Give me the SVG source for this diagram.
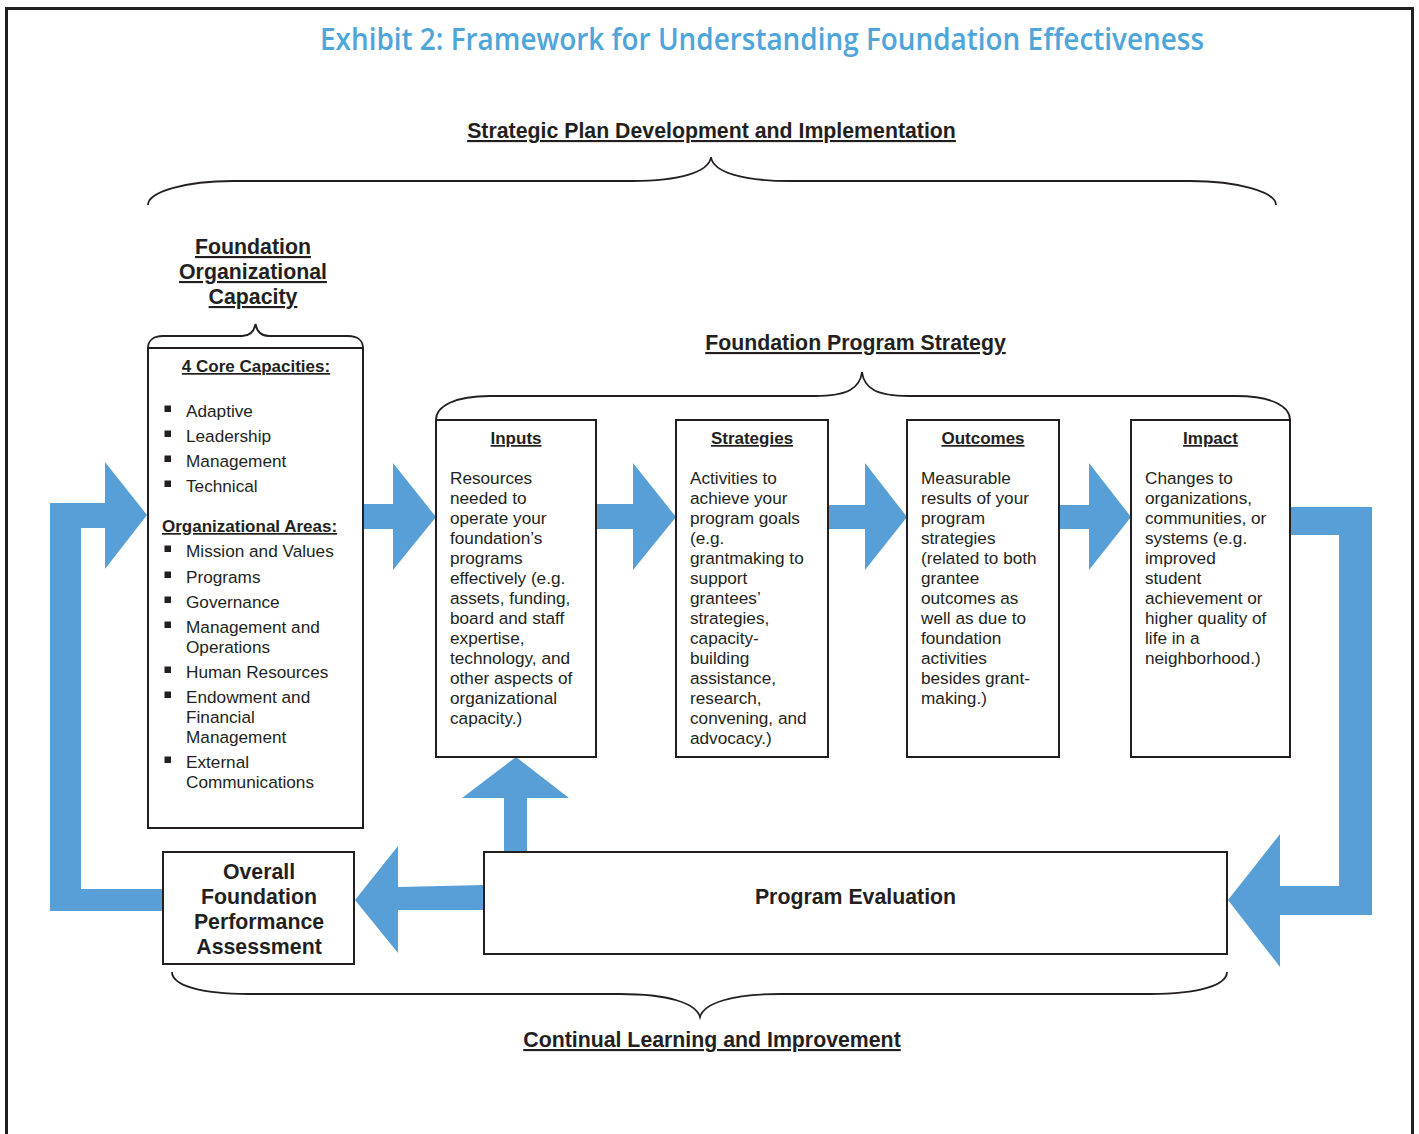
<svg xmlns="http://www.w3.org/2000/svg" width="1419" height="1134" viewBox="0 0 1419 1134">
<style>
  text { font-family: "Liberation Sans", Arial, sans-serif; fill: #231f20; }
  .title { font-family: "Open Sans", "Liberation Sans", sans-serif; font-weight: 600; font-size: 31px; fill: #4ea5da; }
  .h21 { font-weight: bold; font-size: 21.3px; }
  .u { text-decoration: underline; }
  .h17 { font-weight: bold; font-size: 17px; }
  .b17 { font-size: 17.2px; }
  .box { fill: #ffffff; stroke: #231f20; stroke-width: 2; }
  .brace { fill: none; stroke: #231f20; stroke-width: 1.8; }
  .arrow { fill: #579fd6; stroke: none; }
  .bullet { fill: #231f20; }
</style>
<rect width="1419" height="1134" fill="#ffffff"/>
<rect x="6.5" y="8.5" width="1406" height="1140" fill="none" stroke="#231f20" stroke-width="3"/>

<text class="title" x="762" y="50" text-anchor="middle" textLength="884" lengthAdjust="spacingAndGlyphs">Exhibit 2: Framework for Understanding Foundation Effectiveness</text>

<g id="connectors">
  <polygon class="arrow" points="50,911 163,911 163,889 81,889 81,528 105,528 105,569 147,515 105,462 105,503 50,503"/>
  <polygon class="arrow" points="363,504 393,504 393,463 436,517 393,570 393,529 363,529"/>
  <polygon class="arrow" points="596,504 633,504 633,463 676,517 633,570 633,529 596,529"/>
  <polygon class="arrow" points="828,505 865,505 865,463 907,517 865,570 865,529 828,529"/>
  <polygon class="arrow" points="1059,505 1089,505 1089,463 1131,517 1089,570 1089,529 1059,529"/>
  <polygon class="arrow" points="1290,507 1372,507 1372,915 1280,915 1280,967 1228,900 1280,834 1280,886 1339,886 1339,535 1290,535"/>
  <polygon class="arrow" points="484,885 398,887 398,846 355,900 398,953 398,910 484,910"/>
  <polygon class="arrow" points="504,852 504,798 462,798 516,757 569,798 527,798 527,852"/>
</g>

<g id="strategic-plan">
  <text class="h21 u" x="711.5" y="138" text-anchor="middle">Strategic Plan Development and Implementation</text>
  <path class="brace" d="M148 205 C148 192 185 181 233 181 L632 181 C680 181 709 172 711 157 C713 172 742 181 790 181 L1190 181 C1238 181 1276 192 1276 205"/>
</g>

<g id="org-capacity">
  <text class="h21 u" x="253" y="254" text-anchor="middle">Foundation</text>
  <text class="h21 u" x="253" y="279" text-anchor="middle">Organizational</text>
  <text class="h21 u" x="253" y="304" text-anchor="middle">Capacity</text>
  <path class="brace" d="M148 348 C148 341 153 336 163 336 L242 336 C250 336 254 332 255.5 324 C257 332 261 336 269 336 L348 336 C358 336 363 341 363 348"/>
  <rect class="box" x="148" y="348" width="215" height="480"/>
  <text class="h17 u" x="256" y="372" text-anchor="middle">4 Core Capacities:</text>
  <rect class="bullet" x="164.5" y="405.5" width="6.5" height="6.5"/>
  <text class="b17" x="186" y="417">Adaptive</text>
  <rect class="bullet" x="164.5" y="430.5" width="6.5" height="6.5"/>
  <text class="b17" x="186" y="442">Leadership</text>
  <rect class="bullet" x="164.5" y="455.5" width="6.5" height="6.5"/>
  <text class="b17" x="186" y="467">Management</text>
  <rect class="bullet" x="164.5" y="480.5" width="6.5" height="6.5"/>
  <text class="b17" x="186" y="492">Technical</text>
  <text class="h17 u" x="162" y="532">Organizational Areas:</text>
  <rect class="bullet" x="164.5" y="545.5" width="6.5" height="6.5"/>
  <text class="b17" x="186" y="557">Mission and Values</text>
  <rect class="bullet" x="164.5" y="571.5" width="6.5" height="6.5"/>
  <text class="b17" x="186" y="583">Programs</text>
  <rect class="bullet" x="164.5" y="596.5" width="6.5" height="6.5"/>
  <text class="b17" x="186" y="608">Governance</text>
  <rect class="bullet" x="164.5" y="621.5" width="6.5" height="6.5"/>
  <text class="b17" x="186" y="633">Management and</text>
  <text class="b17" x="186" y="653">Operations</text>
  <rect class="bullet" x="164.5" y="666.5" width="6.5" height="6.5"/>
  <text class="b17" x="186" y="678">Human Resources</text>
  <rect class="bullet" x="164.5" y="691.5" width="6.5" height="6.5"/>
  <text class="b17" x="186" y="703">Endowment and</text>
  <text class="b17" x="186" y="723">Financial</text>
  <text class="b17" x="186" y="743">Management</text>
  <rect class="bullet" x="164.5" y="756.5" width="6.5" height="6.5"/>
  <text class="b17" x="186" y="768">External</text>
  <text class="b17" x="186" y="788">Communications</text>
</g>

<g id="program-strategy">
  <text class="h21 u" x="855.5" y="350" text-anchor="middle">Foundation Program Strategy</text>
  <path class="brace" d="M436 420 C436 406 455 396 490 396 L815 396 C848 396 860 388 862 372 C864 388 876 396 909 396 L1236 396 C1271 396 1290 406 1290 420"/>
</g>

<g id="inputs">
  <rect class="box" x="436" y="420" width="160" height="337"/>
  <text class="h17 u" x="516" y="444" text-anchor="middle">Inputs</text>
  <text class="b17" x="450" y="484">Resources</text>
  <text class="b17" x="450" y="504">needed to</text>
  <text class="b17" x="450" y="524">operate your</text>
  <text class="b17" x="450" y="544">foundation’s</text>
  <text class="b17" x="450" y="564">programs</text>
  <text class="b17" x="450" y="584">effectively (e.g.</text>
  <text class="b17" x="450" y="604">assets, funding,</text>
  <text class="b17" x="450" y="624">board and staff</text>
  <text class="b17" x="450" y="644">expertise,</text>
  <text class="b17" x="450" y="664">technology, and</text>
  <text class="b17" x="450" y="684">other aspects of</text>
  <text class="b17" x="450" y="704">organizational</text>
  <text class="b17" x="450" y="724">capacity.)</text>
</g>

<g id="strategies">
  <rect class="box" x="676" y="420" width="152" height="337"/>
  <text class="h17 u" x="752" y="444" text-anchor="middle">Strategies</text>
  <text class="b17" x="690" y="484">Activities to</text>
  <text class="b17" x="690" y="504">achieve your</text>
  <text class="b17" x="690" y="524">program goals</text>
  <text class="b17" x="690" y="544">(e.g.</text>
  <text class="b17" x="690" y="564">grantmaking to</text>
  <text class="b17" x="690" y="584">support</text>
  <text class="b17" x="690" y="604">grantees’</text>
  <text class="b17" x="690" y="624">strategies,</text>
  <text class="b17" x="690" y="644">capacity-</text>
  <text class="b17" x="690" y="664">building</text>
  <text class="b17" x="690" y="684">assistance,</text>
  <text class="b17" x="690" y="704">research,</text>
  <text class="b17" x="690" y="724">convening, and</text>
  <text class="b17" x="690" y="744">advocacy.)</text>
</g>

<g id="outcomes">
  <rect class="box" x="907" y="420" width="152" height="337"/>
  <text class="h17 u" x="983" y="444" text-anchor="middle">Outcomes</text>
  <text class="b17" x="921" y="484">Measurable</text>
  <text class="b17" x="921" y="504">results of your</text>
  <text class="b17" x="921" y="524">program</text>
  <text class="b17" x="921" y="544">strategies</text>
  <text class="b17" x="921" y="564">(related to both</text>
  <text class="b17" x="921" y="584">grantee</text>
  <text class="b17" x="921" y="604">outcomes as</text>
  <text class="b17" x="921" y="624">well as due to</text>
  <text class="b17" x="921" y="644">foundation</text>
  <text class="b17" x="921" y="664">activities</text>
  <text class="b17" x="921" y="684">besides grant-</text>
  <text class="b17" x="921" y="704">making.)</text>
</g>

<g id="impact">
  <rect class="box" x="1131" y="420" width="159" height="337"/>
  <text class="h17 u" x="1210.5" y="444" text-anchor="middle">Impact</text>
  <text class="b17" x="1145" y="484">Changes to</text>
  <text class="b17" x="1145" y="504">organizations,</text>
  <text class="b17" x="1145" y="524">communities, or</text>
  <text class="b17" x="1145" y="544">systems (e.g.</text>
  <text class="b17" x="1145" y="564">improved</text>
  <text class="b17" x="1145" y="584">student</text>
  <text class="b17" x="1145" y="604">achievement or</text>
  <text class="b17" x="1145" y="624">higher quality of</text>
  <text class="b17" x="1145" y="644">life in a</text>
  <text class="b17" x="1145" y="664">neighborhood.)</text>
</g>

<g id="overall-assessment">
  <rect class="box" x="163" y="852" width="191" height="112"/>
  <text class="h21" x="259" y="879" text-anchor="middle">Overall</text>
  <text class="h21" x="259" y="904" text-anchor="middle">Foundation</text>
  <text class="h21" x="259" y="929" text-anchor="middle">Performance</text>
  <text class="h21" x="259" y="954" text-anchor="middle">Assessment</text>
</g>

<g id="program-evaluation">
  <rect class="box" x="484" y="852" width="743" height="102"/>
  <text class="h21" x="855.5" y="904" text-anchor="middle">Program Evaluation</text>
</g>

<g id="continual-learning">
  <path class="brace" d="M172 972 C172 985 200 994 249 994 L620 994 C668 994 696 1003 700 1017 C704 1003 732 994 780 994 L1150 994 C1199 994 1227 985 1227 972"/>
  <text class="h21 u" x="712" y="1047" text-anchor="middle">Continual Learning and Improvement</text>
</g>
</svg>
